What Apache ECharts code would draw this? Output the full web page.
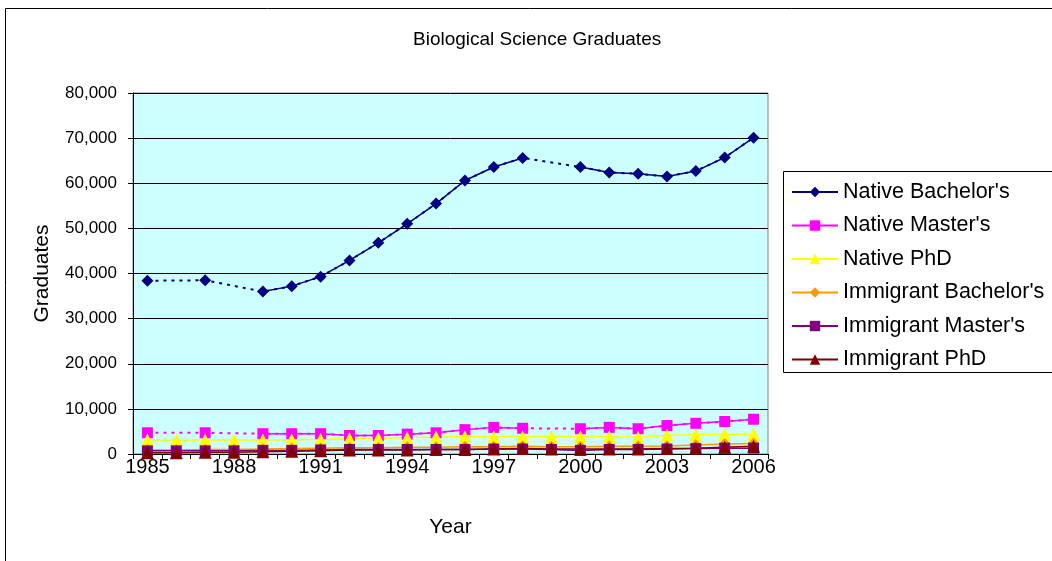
<!DOCTYPE html>
<html>
<head>
<meta charset="utf-8">
<script src="https://cdn.jsdelivr.net/npm/echarts@6/dist/echarts.min.js"></script>
<style>
html,body{margin:0;padding:0;background:#fff;}
#chart{width:1052px;height:561px;}
</style>
</head>
<body>
<div id="chart"></div>
<script>
var years = ['1985','1986','1987','1988','1989','1990','1991','1992','1993','1994','1995','1996','1997','1998','1999','2000','2001','2002','2003','2004','2005','2006'];
var nativeBachelors = [38400, null, 38500, null, 36000, 37200, 39300, 42900, 46800, 51000, 55500, 60600, 63600, 65600, null, 63600, 62400, 62100, 61500, 62700, 65700, 70100];
var nativeMasters = [4700, null, 4700, null, 4500, 4500, 4500, 4100, 4100, 4400, 4700, 5400, 5900, 5700, null, 5600, 5900, 5600, 6300, 6800, 7200, 7700];
var nativePhD = [3100, 3100, 3100, 3100, 3100, 3150, 3250, 3400, 3500, 3600, 3750, 3800, 3850, 3850, 3850, 3850, 3800, 3700, 4150, 4250, 4300, 4350];
var immigrantBachelors = [900, 900, 1000, 1000, 1100, 1200, 1300, 1400, 1400, 1500, 1500, 1600, 1600, 1700, 1600, 1600, 1700, 1700, 1800, 2000, 2200, 2300];
var immigrantMasters = [700, 700, 700, 700, 800, 800, 900, 1000, 1000, 1000, 1000, 1000, 1100, 1100, 1000, 800, 1000, 1000, 1100, 1200, 1300, 1300];
var immigrantPhD = [300, 300, 400, 400, 500, 600, 700, 900, 900, 900, 1000, 1000, 1100, 1200, 1100, 1100, 1100, 1100, 1200, 1300, 1500, 1700];

var seriesNames = ["Native Bachelor's", "Native Master's", "Native PhD", "Immigrant Bachelor's", "Immigrant Master's", "Immigrant PhD"];
var seriesData = [nativeBachelors, nativeMasters, nativePhD, immigrantBachelors, immigrantMasters, immigrantPhD];
var colors = ['#000080', '#FF00FF', '#FFFF00', '#FF9900', '#800080', '#800000'];
var symbols = ['diamond', 'rect', 'triangle', 'diamond', 'rect', 'triangle'];
var symbolSizes = [12, 11, 13, 12, 11, 13];

var font = 'Liberation Sans, Arial, sans-serif';
var series = [];
seriesData.forEach(function (d, i) {
  var hasGap = d.some(function (v) { return v === null; });
  if (hasGap) {
    series.push({
      name: seriesNames[i] + ' gap',
      type: 'line',
      data: d,
      connectNulls: true,
      symbol: 'none',
      silent: true,
      z: 1,
      lineStyle: { color: colors[i], width: 2, type: [3, 5] },
      animation: false
    });
  }
});
seriesData.forEach(function (d, i) {
  series.push({
    name: seriesNames[i],
    type: 'line',
    data: d,
    connectNulls: false,
    symbol: symbols[i],
    symbolSize: symbolSizes[i],
    z: 3,
    itemStyle: { color: colors[i] },
    lineStyle: { color: colors[i], width: 1.5 },
    animation: false
  });
});

var chart = echarts.init(document.getElementById('chart'));
chart.setOption({
  animation: false,
  title: {
    text: 'Biological Science Graduates',
    left: 408, top: 25,
    textStyle: { fontFamily: font, fontSize: 19, fontWeight: 'normal', color: '#000' }
  },
  graphic: [
    { type: 'rect', shape: { x: 5.5, y: 8.5, width: 1200, height: 700 }, style: { fill: 'none', stroke: '#000', lineWidth: 1 }, silent: true, z: -10 },
    { type: 'rect', shape: { x: 783.5, y: 171.5, width: 400, height: 201 }, style: { fill: '#fff', stroke: '#000', lineWidth: 1 }, silent: true, z: -5 }
  ],
  legend: {
    orient: 'vertical',
    left: 791, top: 181,
    padding: 0,
    itemGap: 11.5,
    itemWidth: 46, itemHeight: 13,
    data: seriesNames,
    textStyle: { fontFamily: font, fontSize: 21.5, color: '#000', lineHeight: 22 }
  },
  grid: {
    left: 133, top: 93, width: 635, height: 361,
    show: true, backgroundColor: '#CCFFFF', borderColor: '#808080', borderWidth: 1,
    containLabel: false
  },
  xAxis: {
    type: 'category',
    data: years,
    boundaryGap: true,
    name: 'Year', nameLocation: 'middle', nameGap: 63,
    nameTextStyle: { fontFamily: font, fontSize: 21, color: '#000' },
    axisLine: { lineStyle: { color: '#000', width: 1 } },
    axisTick: { show: true, interval: 0, length: 5, lineStyle: { color: '#000' } },
    axisLabel: { interval: 2, margin: 3, fontFamily: font, fontSize: 20, color: '#000' },
    splitLine: { show: false }
  },
  yAxis: {
    type: 'value',
    min: 0, max: 80000, interval: 10000,
    name: 'Graduates', nameLocation: 'middle', nameGap: 80,
    nameTextStyle: { fontFamily: font, fontSize: 21, color: '#000' },
    axisLine: { show: true, lineStyle: { color: '#000', width: 1 } },
    axisTick: { show: true, length: 5, lineStyle: { color: '#000' } },
    axisLabel: {
      margin: 16, fontFamily: font, fontSize: 17, color: '#000',
      formatter: function (v) { return v.toLocaleString('en-US'); }
    },
    splitLine: { show: true, lineStyle: { color: '#000', width: 1 } }
  },
  series: series
});
</script>
</body>
</html>
